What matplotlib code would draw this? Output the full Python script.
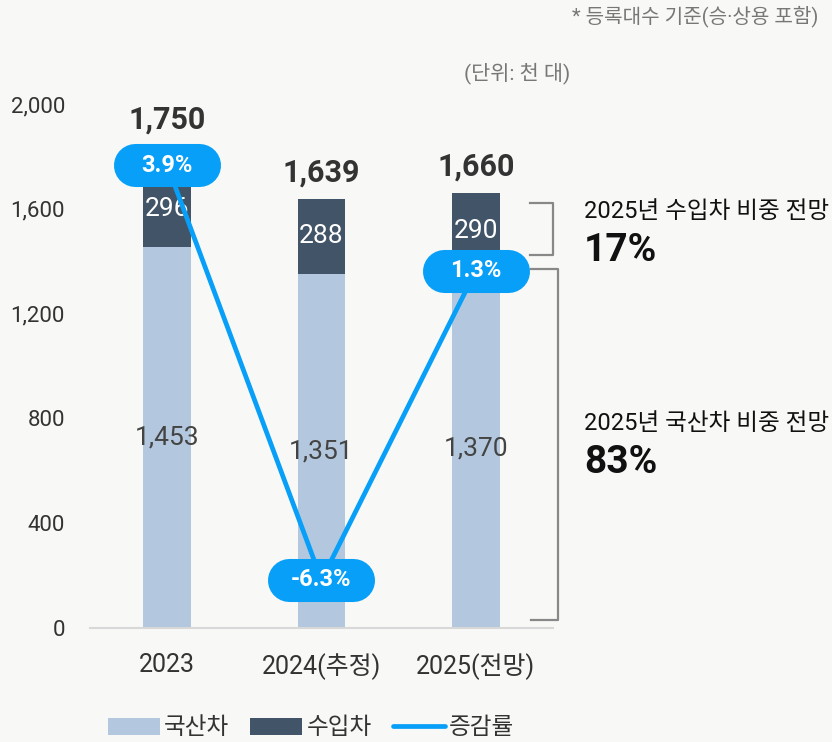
import matplotlib
matplotlib.use("Agg")
import matplotlib.pyplot as plt
from matplotlib.patches import Patch
from matplotlib.lines import Line2D
from matplotlib.transforms import ScaledTranslation
import numpy as np

plt.rcParams['font.family'] = ['Roboto', 'Noto Sans CJK KR', 'DejaVu Sans']

# data (천 대)
years = ['2023', '2024(추정)', '2025(전망)']
domestic = np.array([1453, 1351, 1370])
imported = np.array([296, 288, 290])
totals = np.array([1750, 1639, 1660])
growth = np.array([3.9, -6.3, 1.3])
yticks = [0, 400, 800, 1200, 1600, 2000]

bg = '#f8f8f6'
c_dom = '#b3c8de'
c_imp = '#425468'
c_line = '#079ff7'
c_txt = '#333333'
c_brk = '#888888'

fig = plt.figure(figsize=(8.32, 7.42), dpi=100, facecolor=bg)
ax = fig.add_axes([90/832, 114/742, 463/832, 524/742])
ax.set_facecolor(bg)

x = np.arange(len(years))
w = 0.31
ax.bar(x, domestic, w, color=c_dom, zorder=2)
ax.bar(x, imported, w, bottom=domestic, color=c_imp, zorder=2)

ax.set_xlim(-0.5, 2.5)
ax.set_ylim(0, 2000)
ax.set_yticks(yticks)
ax.set_yticklabels([f'{v:,}' for v in yticks])
ax.set_xticks(x)
ax.set_xticklabels(years)
ax.tick_params(axis='y', length=0, pad=18, labelsize=16, labelcolor=c_txt)
ax.tick_params(axis='x', length=0, pad=18, labelsize=18, labelcolor=c_txt)
for s in ['top', 'right', 'left']:
    ax.spines[s].set_visible(False)
ax.spines['bottom'].set_color('#d8d8d8')
ax.spines['bottom'].set_linewidth(1.5)

# segment labels
for i in range(len(x)):
    ax.text(x[i], domestic[i] / 2, f'{domestic[i]:,}', ha='center', va='center',
            fontsize=19, color='#444444', zorder=3)
    ax.text(x[i], domestic[i] + imported[i] / 2, f'{imported[i]:,}', ha='center', va='center',
            fontsize=19, color='white', zorder=3)

# totals
tot_off = [36, 19, 19]
for i in range(len(x)):
    ax.annotate(f'{totals[i]:,}', (x[i], totals[i]), xytext=(0, tot_off[i]),
                textcoords='offset points', ha='center', va='center',
                fontsize=22, fontweight='bold', color=c_txt)

# growth line on twin axis
ax2 = ax.twinx()
ax2.axis('off')
ax2.plot(x, growth, color=c_line, lw=3.4, zorder=4, solid_capstyle='round')
for i in range(len(x)):
    # pill drawn as a thick round-capped stroke (inches around the point)
    pill = fig.dpi_scale_trans + ScaledTranslation(x[i], growth[i], ax2.transData)
    ax2.plot([-0.32, 0.32], [0, 0], transform=pill, color=c_line, lw=31,
             solid_capstyle='round', zorder=5)
    ax2.text(x[i], growth[i], f'{growth[i]:.1f}%', ha='center', va='center',
             fontsize=17, fontweight='bold', color='white', zorder=6)
ax2.set_xlim(-0.5, 2.5)
ax2.set_ylim(-7.48, 5.40)

# brackets for 2025 shares
last = len(x) - 1
top_imp = totals[last] - 38
bot_imp = domestic[last] + 55
top_dom = domestic[last]
bot_dom = 30
ax.plot([2.352, 2.5, 2.5, 2.352], [top_imp, top_imp, bot_imp, bot_imp],
        color=c_brk, lw=1.6, clip_on=False, zorder=1)
ax.plot([2.358, 2.532, 2.532, 2.358], [top_dom, top_dom, bot_dom, bot_dom],
        color=c_brk, lw=1.6, clip_on=False, zorder=1)

imp_share = round(imported[last] / totals[last] * 100)
dom_share = round(domestic[last] / totals[last] * 100)
ax.text(2.70, 1588, '2025년 수입차 비중 전망', ha='left', va='center',
        fontsize=17, color='#111111')
ax.text(2.70, 1440, f'{imp_share}%', ha='left', va='center',
        fontsize=28, fontweight='bold', color='#111111')
ax.text(2.70, 782, '2025년 국산차 비중 전망', ha='left', va='center',
        fontsize=17, color='#111111')
ax.text(2.70, 632, f'{dom_share}%', ha='left', va='center',
        fontsize=28, fontweight='bold', color='#111111')

# notes
fig.text(818/832, 1 - 16/742, '* 등록대수 기준(승·상용 포함)', ha='right', va='center',
         fontsize=14.5, color='#777777')
fig.text(570/832, 1 - 73/742, '(단위: 천 대)', ha='right', va='center',
         fontsize=15, color='#777777')

# legend
handles = [Patch(facecolor=c_dom, edgecolor='none'),
           Patch(facecolor=c_imp, edgecolor='none'),
           Line2D([0], [0], color=c_line, lw=3.4, solid_capstyle='round')]
fig.legend(handles, ['국산차', '수입차', '증감률'], loc='center', ncol=3,
           bbox_to_anchor=(311/832, 14/742), frameon=False, fontsize=17,
           handlelength=2.2, handleheight=0.72, handletextpad=0.17,
           columnspacing=0.9, labelcolor=c_txt)

fig.savefig('out.png', dpi=100, facecolor=bg)
